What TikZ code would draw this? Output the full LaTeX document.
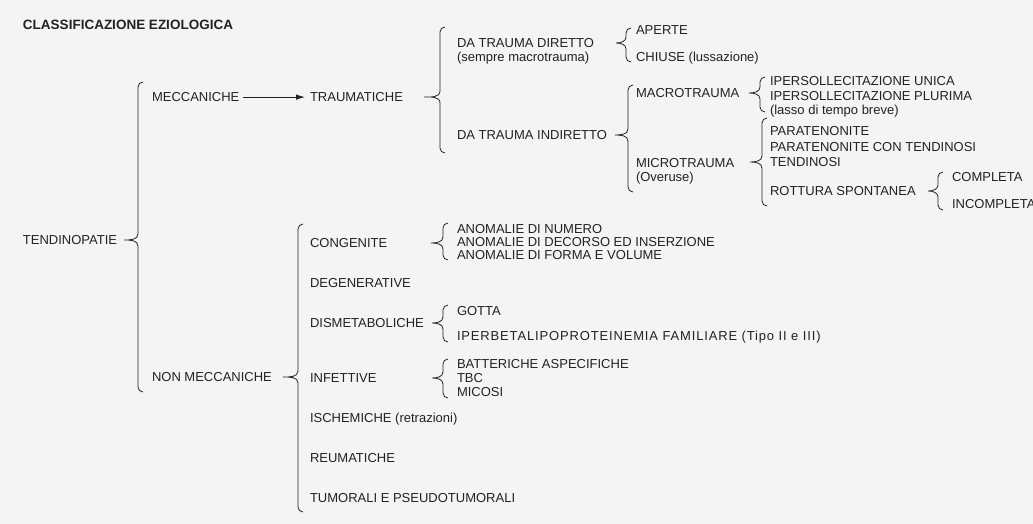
\documentclass[tikz,border=0pt]{standalone}
\usepackage{fontspec}
\setmainfont{Liberation Sans}
\usetikzlibrary{arrows.meta}
\definecolor{ink}{HTML}{222222}
\definecolor{paper}{HTML}{F4F4F4}
% #1 x of vertical stroke, #2 top y, #3 tip y, #4 bottom y, #5 tip x
\newcommand\tbrace[5]{%
  \draw[brc] ({#1+5},#2) to[out=180,in=90] (#1,{#2+5}) -- (#1,{#3-6})
    to[out=-90,in=0] (#5,#3) to[out=0,in=90] (#1,{#3+6}) -- (#1,{#4-5})
    to[out=-90,in=180] ({#1+5},#4);}
\begin{document}
\begin{tikzpicture}[x=1pt,y=-1pt,
  lbl/.style={anchor=base west,inner sep=0pt,outer sep=0pt,text=ink,
    font=\fontsize{13}{15}\selectfont,yshift=-4.6pt},
  ttl/.style={lbl,font=\fontsize{13.5}{15}\selectfont\bfseries},
  wide/.style={lbl,font=\fontsize{13}{15}\selectfont\addfontfeature{LetterSpace=6.5}},
  brc/.style={draw=ink,line width=0.8pt},
  conn/.style={draw=ink,line width=0.8pt,-{Latex[length=9pt,width=5.5pt]}}]
\fill[paper] (0,0) rectangle (1033,524);
\useasboundingbox (0,0) rectangle (1033,524);

\node[ttl] (title) at (23,25) {CLASSIFICAZIONE EZIOLOGICA};
\node[lbl] (tend) at (23,240) {TENDINOPATIE};
\node[lbl] (mecc) at (152,97) {MECCANICHE};
\node[lbl] (trau) at (310,97) {TRAUMATICHE};
\node[lbl] (dir) at (457,43) {DA TRAUMA DIRETTO};
\node[lbl] (dirnote) at (457,57) {(sempre macrotrauma)};
\node[lbl] (aper) at (636,30) {APERTE};
\node[lbl] (chiu) at (636,57) {CHIUSE (lussazione)};
\node[lbl] (ind) at (457,135) {DA TRAUMA INDIRETTO};
\node[lbl] (macro) at (636,93) {MACROTRAUMA};
\node[lbl] (ipu) at (770,81) {IPERSOLLECITAZIONE UNICA};
\node[lbl] (ipp) at (770,96) {IPERSOLLECITAZIONE PLURIMA};
\node[lbl] (lasso) at (770,110) {(lasso di tempo breve)};
\node[lbl] (micro) at (636,163) {MICROTRAUMA};
\node[lbl] (over) at (636,177) {(Overuse)};
\node[lbl] (para) at (770,131) {PARATENONITE};
\node[lbl] (parat) at (770,147) {PARATENONITE CON TENDINOSI};
\node[lbl] (tendi) at (770,162) {TENDINOSI};
\node[lbl] (rott) at (770,191) {ROTTURA SPONTANEA};
\node[lbl] (comp) at (952,177) {COMPLETA};
\node[lbl] (incomp) at (952,204) {INCOMPLETA};

\node[lbl] (nonm) at (152,377) {NON MECCANICHE};
\node[lbl] (cong) at (310,243) {CONGENITE};
\node[lbl] (an1) at (457,229) {ANOMALIE DI NUMERO};
\node[lbl] (an2) at (457,242) {ANOMALIE DI DECORSO ED INSERZIONE};
\node[lbl] (an3) at (457,255) {ANOMALIE DI FORMA E VOLUME};
\node[lbl] (degen) at (310,283) {DEGENERATIVE};
\node[lbl] (dism) at (310,323) {DISMETABOLICHE};
\node[lbl] (gotta) at (457,311) {GOTTA};
\node[wide] (iperb) at (457,336) {IPERBETALIPOPROTEINEMIA FAMILIARE (Tipo II e III)};
\node[lbl] (infet) at (310,378) {INFETTIVE};
\node[lbl] (batt) at (457,364) {BATTERICHE ASPECIFICHE};
\node[lbl] (tbc) at (457,378) {TBC};
\node[lbl] (micosi) at (457,392) {MICOSI};
\node[lbl] (ische) at (310,418) {ISCHEMICHE (retrazioni)};
\node[lbl] (reuma) at (310,458) {REUMATICHE};
\node[lbl] (tumor) at (310,498) {TUMORALI E PSEUDOTUMORALI};

\draw[conn] ([xshift=4pt]mecc.east) -- ([xshift=-5pt]trau.west);

\tbrace{138}{82}{240}{392}{124}
\tbrace{440}{27}{97}{153}{424}
\tbrace{626}{28}{43}{62}{616}
\tbrace{628}{85}{135}{192}{615}
\tbrace{760}{77}{93}{112}{749}
\tbrace{762}{118}{162}{206}{750}
\tbrace{938}{172}{191}{210}{928}
\tbrace{298}{224}{377}{512}{283}
\tbrace{443}{223}{243}{260}{431}
\tbrace{443}{305}{323}{342}{432}
\tbrace{443}{359}{378}{398}{432}
\end{tikzpicture}
\end{document}
